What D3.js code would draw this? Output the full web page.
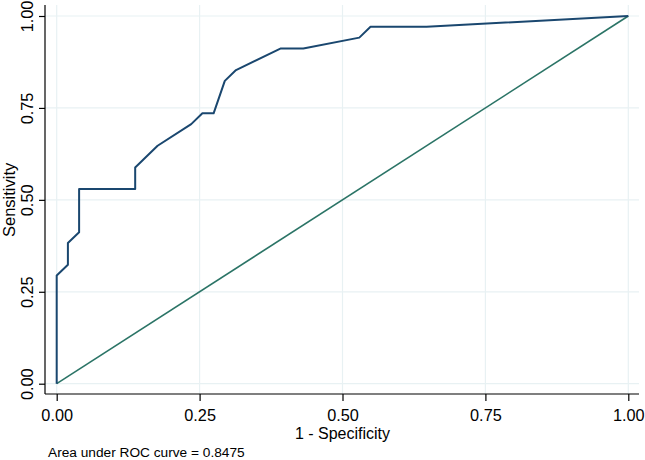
<!DOCTYPE html>
<html>
<head>
<meta charset="utf-8">
<title>ROC curve</title>
<style>
  body { margin: 0; background: #fff; }
  svg { display: block; font-family: "Liberation Sans", Arial, sans-serif; }
  .grid line { stroke: #e8f1f3; stroke-width: 1.2; }
</style>
</head>
<body>
<div id="chart"></div>
<script src="https://d3js.org/d3.v7.min.js"></script>
<script>

// ROC points (1 - specificity, sensitivity)
var fpr  = [0, 0, 0.0196, 0.0196, 0.0392, 0.0392, 0.1373, 0.1373, 0.1765, 0.2353, 0.2549, 0.2745, 0.2941, 0.3137, 0.3922, 0.4314, 0.5294, 0.5490, 0.6471, 1];
var sens = [0, 0.2941, 0.3235, 0.3824, 0.4118, 0.5294, 0.5294, 0.5882, 0.6471, 0.7059, 0.7353, 0.7353, 0.8235, 0.8529, 0.9118, 0.9118, 0.9412, 0.9706, 0.9706, 1];
var refLine = [0, 1];
var ticks = [0, 0.25, 0.5, 0.75, 1];
var aucText = "Area under ROC curve = 0.8475";

var W = 645, H = 460;
var margin = {top: 5, right: 6, bottom: 66, left: 45};

var svg = d3.select("#chart").append("svg")
    .attr("width", W)
    .attr("height", H);

var x = d3.scaleLinear().domain([0, 1]).range([56.7, 628.3]);
var y = d3.scaleLinear().domain([0, 1]).range([383.7, 16]);

var plotL = margin.left, plotR = W - margin.right,
    plotT = margin.top, plotB = H - margin.bottom;

// gridlines
var grid = svg.append("g").attr("class", "grid");
grid.selectAll(".gx").data(ticks).enter().append("line")
    .attr("x1", function(d){ return x(d); })
    .attr("x2", function(d){ return x(d); })
    .attr("y1", plotT).attr("y2", plotB);
grid.selectAll(".gy").data(ticks).enter().append("line")
    .attr("y1", function(d){ return y(d); })
    .attr("y2", function(d){ return y(d); })
    .attr("x1", plotL).attr("x2", plotR);

// axes
var xAxis = d3.axisBottom(x).tickValues(ticks).tickFormat(d3.format(".2f")).tickSize(7).tickSizeOuter(0);
var yAxis = d3.axisLeft(y).tickValues(ticks).tickFormat(d3.format(".2f")).tickSize(6).tickSizeOuter(0);

var gx = svg.append("g").attr("transform", "translate(0," + plotB + ")").call(xAxis);
gx.select(".domain").remove();
gx.append("line").attr("x1", plotL).attr("x2", plotR).attr("stroke", "#000").attr("stroke-width", 1.2);
gx.selectAll(".tick line").attr("stroke", "#000").attr("stroke-width", 1.2);
gx.selectAll(".tick text")
    .attr("y", 26.5).attr("dy", 0)
    .style("font-size", "16.3px").style("font-family", "Liberation Sans, Arial, sans-serif")
    .attr("fill", "#000");

var gy = svg.append("g").attr("transform", "translate(" + plotL + ",0)").call(yAxis);
gy.select(".domain").remove();
gy.append("line").attr("y1", plotT).attr("y2", plotB).attr("stroke", "#000").attr("stroke-width", 1.2);
gy.selectAll(".tick line").attr("stroke", "#000").attr("stroke-width", 1.2);
gy.selectAll(".tick text")
    .attr("x", 0).attr("dy", 0)
    .attr("text-anchor", "middle")
    .attr("transform", "translate(-12,0) rotate(-90)")
    .style("font-size", "16.3px").style("font-family", "Liberation Sans, Arial, sans-serif")
    .attr("fill", "#000");

// axis titles
svg.append("text")
    .attr("x", x(0.5)).attr("y", 438.5)
    .attr("text-anchor", "middle")
    .style("font-size", "16px")
    .text("1 - Specificity");

svg.append("text")
    .attr("transform", "translate(14.5," + y(0.5) + ") rotate(-90)")
    .attr("text-anchor", "middle")
    .style("font-size", "16.5px")
    .text("Sensitivity");

svg.append("text")
    .attr("x", 48).attr("y", 456.5)
    .style("font-size", "13.7px")
    .text(aucText);

// reference line
svg.append("path")
    .datum(refLine)
    .attr("fill", "none")
    .attr("stroke", "#2b7466")
    .attr("stroke-width", 1.6)
    .attr("d", d3.line().x(function(d){ return x(d); }).y(function(d){ return y(d); }));

// ROC curve
var pts = fpr.map(function(d, i){ return [d, sens[i]]; });
svg.append("path")
    .datum(pts)
    .attr("fill", "none")
    .attr("stroke", "#1a476f")
    .attr("stroke-width", 2)
    .attr("stroke-linejoin", "round")
    .attr("d", d3.line().x(function(d){ return x(d[0]); }).y(function(d){ return y(d[1]); }));

</script>
</body>
</html>
